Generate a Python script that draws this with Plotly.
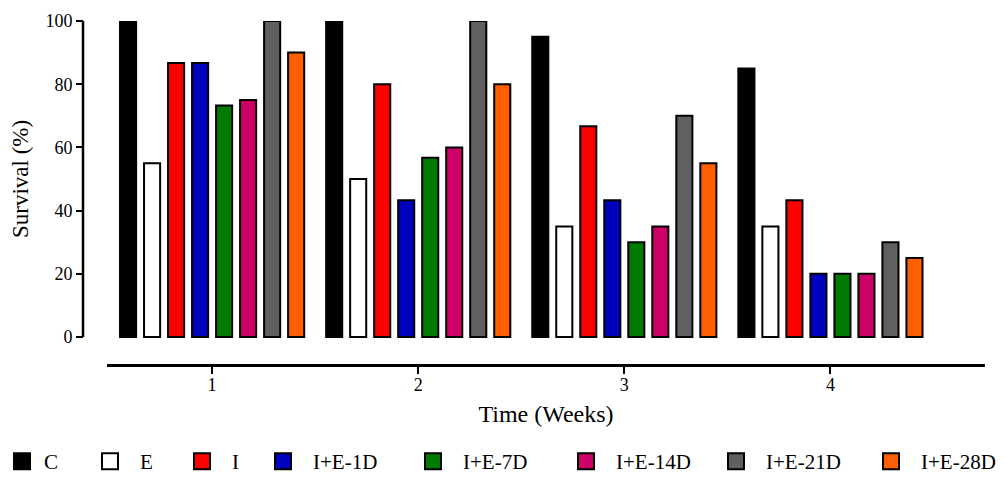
import plotly.graph_objects as go

weeks = [1, 2, 3, 4]
week_labels = ["1", "2", "3", "4"]
groups = ["C", "E", "I", "I+E-1D", "I+E-7D", "I+E-14D", "I+E-21D", "I+E-28D"]
values = {
    "C": [100, 100, 95, 85],
    "E": [55, 50, 35, 35],
    "I": [86.7, 80, 66.7, 43.3],
    "I+E-1D": [86.7, 43.3, 43.3, 20],
    "I+E-7D": [73.3, 56.7, 30, 20],
    "I+E-14D": [75, 60, 35, 20],
    "I+E-21D": [100, 100, 70, 30],
    "I+E-28D": [90, 80, 55, 25],
}
colors = ["#000000", "#FFFFFF", "#FF0000", "#0000BF", "#007A00", "#CC0066", "#606060", "#FF5F00"]
# legend symbol centre (x, px) for each entry
legend_centres = [16, 110, 202, 283, 433, 586, 736, 891]

FONT = "Liberation Serif"
W, H = 1006, 482
L, R, T, B = 83, 21, 21, 118
PW = W - L - R

fig = go.Figure()
for g, c in zip(groups, colors):
    fig.add_trace(go.Bar(x=weeks, y=values[g], name=g, marker=dict(color=c, line=dict(color="black", width=2)),
                         showlegend=False))

legend_layout = {}
for i, (g, c, cx) in enumerate(zip(groups, colors, legend_centres)):
    key = "legend" if i == 0 else f"legend{i + 1}"
    itemw = 34 if i == 0 else 50
    sym_off = 5 + itemw / 2
    fig.add_trace(go.Scatter(x=[None], y=[None], mode="markers", name=g, legend=key,
                             marker=dict(symbol="square", size=17, color=c, line=dict(color="black", width=2))))
    legend_layout[key] = dict(xref="container", yref="container", x=max(cx - sym_off, 0) / W, xanchor="left",
                              y=0, yanchor="bottom", orientation="h",
                              font=dict(size=21, family=FONT, color="black"), itemwidth=itemw,
                              bgcolor="rgba(0,0,0,0)", borderwidth=0)

fig.add_shape(type="line", xref="paper", yref="y", x0=0, x1=0, y0=0, y1=100,
              line=dict(color="black", width=2.5))
fig.add_annotation(text="Survival (%)", xref="paper", yref="y", x=(20 - L) / PW, y=50,
                   textangle=-90, showarrow=False, xanchor="center", yanchor="middle",
                   font=dict(size=23, family=FONT, color="black"))

fig.update_layout(
    width=W, height=H,
    margin=dict(l=L, r=R, t=T, b=B, autoexpand=False),
    plot_bgcolor="white", paper_bgcolor="white",
    barmode="group", bargap=0.068, bargroupgap=0.33,
    font=dict(family=FONT, size=18, color="black"),
    xaxis=dict(domain=[0.0266, 1], range=[0.49, 4.75], tickvals=weeks, ticktext=week_labels,
               showline=True, linecolor="black", linewidth=3, ticks="outside", ticklen=7, tickwidth=2,
               tickcolor="black", showgrid=False, zeroline=False, automargin=False,
               tickfont=dict(size=18, family=FONT), ticklabelstandoff=-5,
               title=dict(text="Time (Weeks)", font=dict(size=24, family=FONT), standoff=12)),
    yaxis=dict(anchor="free", position=0, range=[-8.54, 100], tickvals=[0, 20, 40, 60, 80, 100],
               showline=False, ticks="outside", ticklen=7, tickwidth=2, tickcolor="black",
               showgrid=False, zeroline=False, automargin=False,
               tickfont=dict(size=18, family=FONT)),
    **legend_layout,
)
fig.write_html("out.html", post_script="document.body.style.margin='0';",
               config={"displayModeBar": False})
